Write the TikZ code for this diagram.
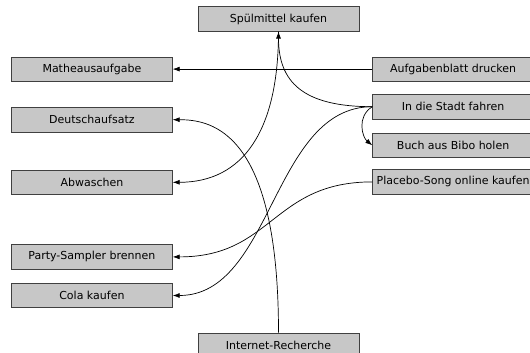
\documentclass[tikz,border=0pt]{standalone}
\usepackage{fontspec}
\setmainfont{DejaVu Sans}
\usetikzlibrary{arrows.meta, positioning}
\tikzset{
  aufgabe/.style={
    rectangle, minimum width=161pt, minimum height=24.5pt, inner sep=0pt,
    text centered, draw=black!75, fill=black!22, line width=0.6pt,
    font=\fontsize{11}{13}\selectfont
  },
  pfeil/.style={
    -{Latex[length=7pt,width=5pt]}, line width=0.7pt, color=black
  }
}

\begin{document}
\begin{tikzpicture}[x=1pt, y=1pt]
\clip (0,0) rectangle (530,-353);

% Mitte oben
\node (spuelmittel) [aufgabe] at (278.5,-19) {Spülmittel kaufen};

% Linke Spalte
\node (mathe) [aufgabe, below left=25pt and 25pt of spuelmittel] {Matheausaufgabe};
\node (deutsch) [aufgabe, below=25.5pt of mathe] {Deutschaufsatz};
\node (abwaschen) [aufgabe, below=37.5pt of deutsch] {Abwaschen};
\node (party_sampler) [aufgabe, below=49.5pt of abwaschen] {Party-Sampler brennen};
\node (cola) [aufgabe, below=13.5pt of party_sampler] {Cola kaufen};

% Rechte Spalte
\node (aufgabenblatt) [aufgabe, below right=25pt and 13pt of spuelmittel] {Aufgabenblatt drucken};
\node (stadt) [aufgabe, below=12.5pt of aufgabenblatt] {In die Stadt fahren};
\node (buch_bibo) [aufgabe, below=13.5pt of stadt] {Buch aus Bibo holen};
\node (placebo) [aufgabe, below=11.5pt of buch_bibo] {Placebo-Song online kaufen};

% Mitte unten
\node (internet) [aufgabe, below right=24.5pt and 25pt of cola] {Internet-Recherche};

% Pfeile
\draw [pfeil] (aufgabenblatt.west) -- (mathe.east);
\draw [pfeil] (stadt.west) .. controls +(-70,0) and +(0,-50) .. (spuelmittel.south);
\draw [pfeil] (spuelmittel.south) .. controls +(0,-100) and +(70,0) .. (abwaschen.east);
\draw [pfeil] (stadt.west) .. controls +(-16,-10) and +(-10,8) .. (buch_bibo.west);
\draw [pfeil] (stadt.west) .. controls +(-100,0) and +(100,0) .. (cola.east);
\draw [pfeil] (placebo.west) .. controls +(-100,0) and +(100,0) .. (party_sampler.east);
\draw [pfeil] (internet.north) .. controls +(0,200) and +(40,0) .. (deutsch.east);

\end{tikzpicture}
\end{document}
